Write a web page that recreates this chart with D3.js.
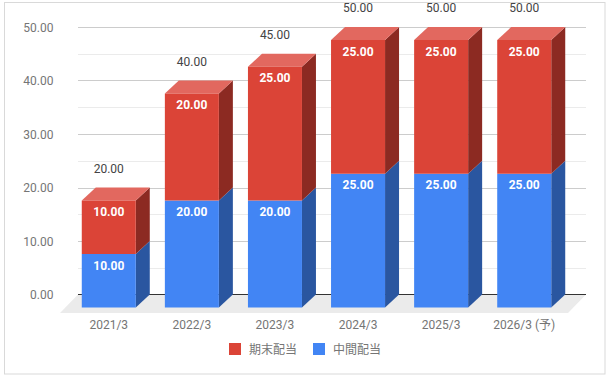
<!DOCTYPE html>
<html>
<head>
<meta charset="utf-8">
<script src="https://cdn.jsdelivr.net/npm/d3@7"></script>
<style>
	body { margin: 0; background: #fff; }
	text { font-family: Roboto, "Noto Sans CJK JP", sans-serif; }
</style>
</head>
<body>
<div id="chart"></div>
<script>
// Data
const categories = ["2021/3", "2022/3", "2023/3", "2024/3", "2025/3", "2026/3 (予)"]
const interim = [10, 20, 20, 25, 25, 25] // 中間配当
const yearEnd = [10, 20, 25, 25, 25, 25] // 期末配当
const yTicks = [0, 10, 20, 30, 40, 50]
const seriesNames = { interim: "中間配当", yearEnd: "期末配当" }

const width = 609
const height = 378

const svg = d3
	.select("#chart")
	.append("svg")
	.attr("width", width)
	.attr("height", height)

// outer border
svg.append("rect")
	.attr("x", 4.5)
	.attr("y", 2.5)
	.attr("width", 600.5)
	.attr("height", 371.5)
	.attr("fill", "#fff")
	.attr("stroke", "#d9d9d9")

// 3d offsets (front face relative to back plane)
const depth = { dx: -14, dy: 13 }
const floorDepth = { dx: -18, dy: 18.5 }

const rows = categories.map((c, i) => ({
	cat: c,
	interim: interim[i],
	yearEnd: yearEnd[i],
}))

const stacked = d3.stack().keys(["interim", "yearEnd"])(rows)

// scales (back plane)
const yScale = d3.scaleLinear().domain([0, 50]).range([294.5, 27])
const xScale = d3
	.scaleBand()
	.domain(categories)
	.range([61, 572])
	.paddingInner(0.35)
	.paddingOuter(0.25)

const gridLeft = 78
const gridRight = 586

// minor gridlines
svg.append("g")
	.selectAll("line")
	.data(d3.range(5, 50, 10))
	.enter()
	.append("line")
	.attr("x1", gridLeft)
	.attr("x2", gridRight)
	.attr("y1", (d) => Math.round(yScale(d)) + 0.5)
	.attr("y2", (d) => Math.round(yScale(d)) + 0.5)
	.attr("stroke", "#ebebeb")

// major gridlines
svg.append("g")
	.selectAll("line")
	.data(yTicks.slice(1))
	.enter()
	.append("line")
	.attr("x1", gridLeft)
	.attr("x2", gridRight)
	.attr("y1", (d) => Math.round(yScale(d)) + 0.5)
	.attr("y2", (d) => Math.round(yScale(d)) + 0.5)
	.attr("stroke", "#cccccc")

// floor
const y0 = yScale(0)
svg.append("path")
	.attr(
		"d",
		`M${gridLeft},${y0}L${gridRight},${y0}L${gridRight + floorDepth.dx},${y0 + floorDepth.dy}L${gridLeft + floorDepth.dx},${y0 + floorDepth.dy}Z`
	)
	.attr("fill", "#ebebeb")

svg.append("line")
	.attr("x1", gridLeft)
	.attr("x2", gridRight)
	.attr("y1", Math.round(y0) - 0.5)
	.attr("y2", Math.round(y0) - 0.5)
	.attr("stroke", "#333")

// y axis labels
svg.append("g")
	.selectAll("text")
	.data(yTicks)
	.enter()
	.append("text")
	.attr("x", 53.5)
	.attr("y", (d) => yScale(d) + 4.5)
	.attr("text-anchor", "end")
	.attr("fill", "#757575")
	.style("font-size", "12px")
	.text((d) => d.toFixed(2))

const colors = {
	interim: { front: "#4285f4", side: "#2a56a0", top: "#6b9ff6" },
	yearEnd: { front: "#db4437", side: "#8c2a22", top: "#e2685f" },
}

const bw = xScale.bandwidth()

// bars
stacked.forEach((layer) => {
	const key = layer.key
	const isTop = key === "yearEnd"
	const g = svg.append("g")
	layer.forEach((d) => {
		const cat = d.data.cat
		const fx = xScale(cat)
		const yTopBack = yScale(d[1])
		const yBotBack = yScale(d[0])
		const fTop = yTopBack + depth.dy
		const fBot = yBotBack + depth.dy
		// side face
		g.append("path")
			.attr(
				"d",
				`M${fx + bw},${fTop}L${fx + bw - depth.dx},${yTopBack}L${fx + bw - depth.dx},${yBotBack}L${fx + bw},${fBot}Z`
			)
			.attr("fill", colors[key].side)
		// top face
		if (isTop) {
			g.append("path")
				.attr(
					"d",
					`M${fx},${fTop}L${fx - depth.dx},${yTopBack}L${fx + bw - depth.dx},${yTopBack}L${fx + bw},${fTop}Z`
				)
				.attr("fill", colors[key].top)
		}
		// front face
		g.append("rect")
			.attr("x", fx)
			.attr("y", fTop)
			.attr("width", bw)
			.attr("height", fBot - fTop)
			.attr("fill", colors[key].front)
		// value label
		g.append("text")
			.attr("x", fx + bw / 2)
			.attr("y", fTop + 15.5)
			.attr("text-anchor", "middle")
			.attr("fill", "#fff")
			.style("font-size", "12px")
			.style("font-weight", "bold")
			.text((d[1] - d[0]).toFixed(2))
	})
})

// totals above bars
svg.append("g")
	.selectAll("text")
	.data(rows)
	.enter()
	.append("text")
	.attr("x", (d) => xScale(d.cat) + bw / 2)
	.attr("y", (d) => yScale(d.interim + d.yearEnd) - 15)
	.attr("text-anchor", "middle")
	.attr("fill", "#444")
	.style("font-size", "12px")
	.text((d) => (d.interim + d.yearEnd).toFixed(2))

// x axis labels
svg.append("g")
	.selectAll("text")
	.data(categories)
	.enter()
	.append("text")
	.attr("x", (d) => xScale(d) + bw / 2)
	.attr("y", 328.5)
	.attr("text-anchor", "middle")
	.attr("fill", "#757575")
	.style("font-size", "12px")
	.text((d) => d)

// legend
const legendItems = [
	{ label: seriesNames.yearEnd, color: colors.yearEnd.front, x: 229 },
	{ label: seriesNames.interim, color: colors.interim.front, x: 313 },
]

legendItems.forEach((item) => {
	const lg = svg.append("g").attr("transform", `translate(${item.x}, 343)`)
	lg.append("rect")
		.attr("width", 12)
		.attr("height", 12)
		.attr("fill", item.color)
	lg.append("text")
		.attr("x", 20)
		.attr("y", 10.5)
		.attr("fill", "#757575")
		.style("font-size", "12px")
		.text(item.label)
})
</script>
</body>
</html>
